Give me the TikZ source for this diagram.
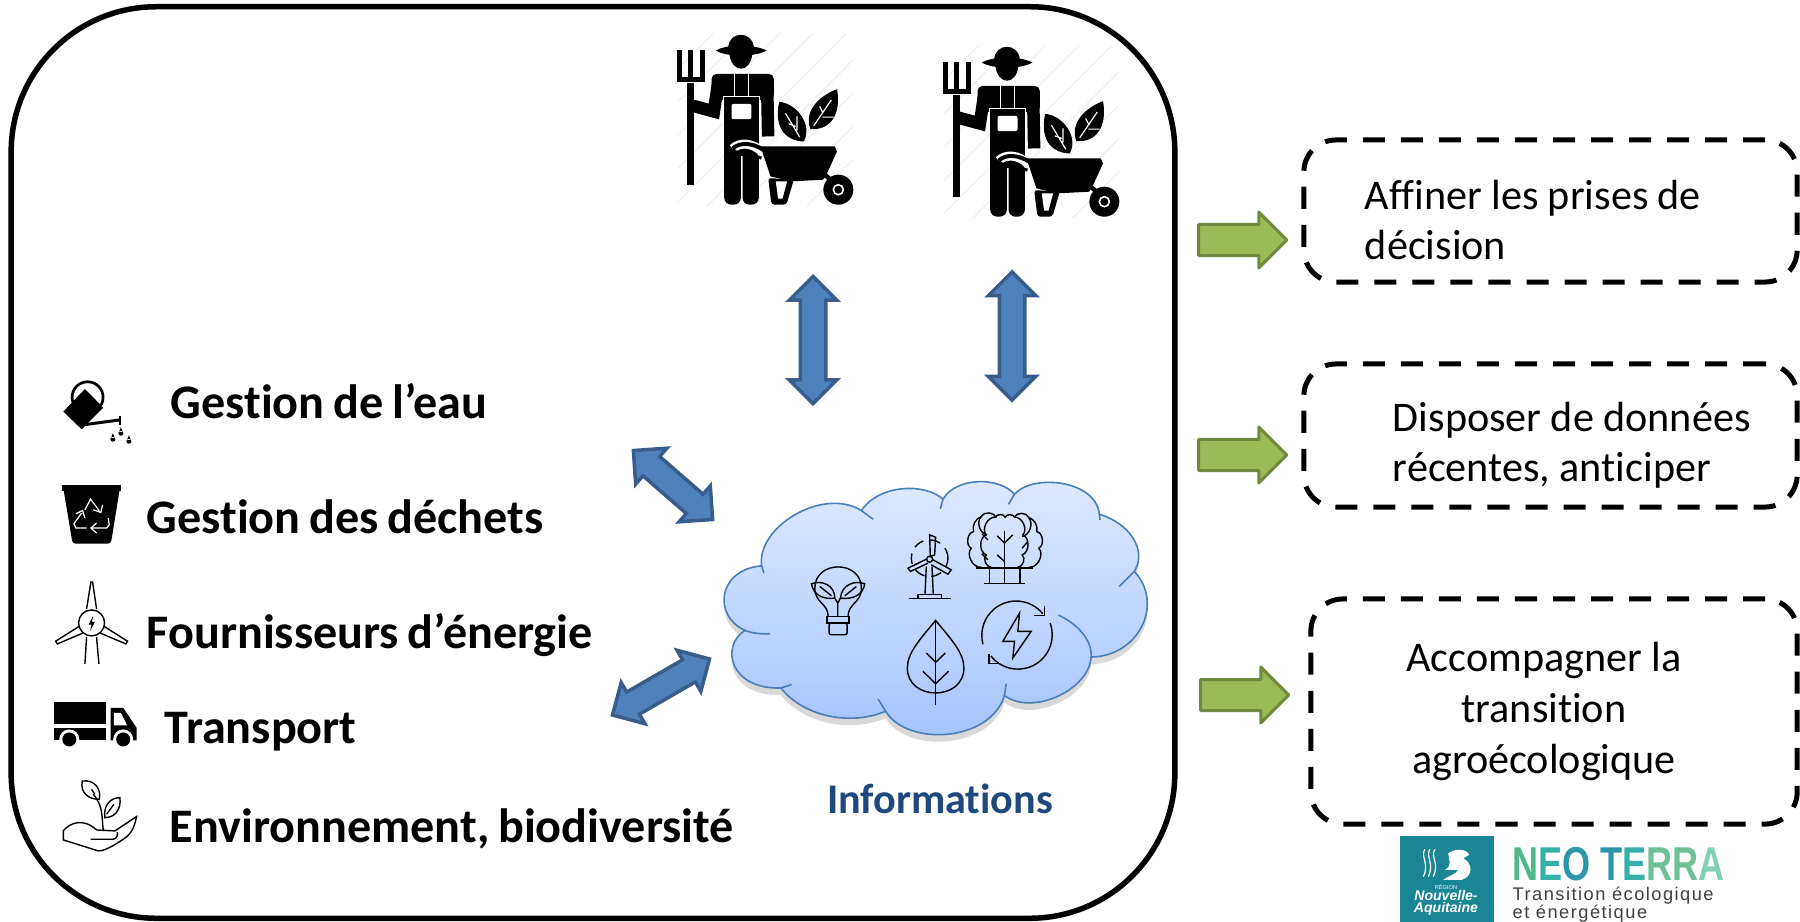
\documentclass[tikz,border=0pt]{standalone}
\usepackage{fontspec}
\setmainfont{Carlito}[Ligatures=NoCommon,WordSpace=.8]
\newfontfamily\logofont{Liberation Sans}
\usetikzlibrary{arrows,shapes.arrows,shadows}
\definecolor{arrow_blue}{RGB}{79,129,189}
\definecolor{arrow_blue_edge}{RGB}{56,93,138}
\definecolor{arrow_green}{RGB}{155,187,89}
\definecolor{arrow_green_edge}{RGB}{113,137,63}
\definecolor{cloud_edge}{RGB}{74,126,187}
\definecolor{cloud_top}{RGB}{224,234,255}
\definecolor{cloud_bottom}{RGB}{163,196,255}
\definecolor{info_blue}{RGB}{31,73,125}
\definecolor{stripe_gray}{RGB}{240,240,240}
\definecolor{logo_teal}{RGB}{26,133,149}
\definecolor{neo_a}{RGB}{78,184,138}
\definecolor{neo_b}{RGB}{56,176,170}
\definecolor{neo_c}{RGB}{46,150,170}
\definecolor{neo_d}{RGB}{110,192,150}
\definecolor{neo_e}{RGB}{130,208,184}
\tikzset{
  farmer/.pic={
    \tikzset{x=.00333cm,y=-.00333cm,line cap=round,line join=round}
    \begin{scope}
      \clip (115,100) rectangle (640,620);
      \foreach \s in {-300,-200,...,600}
        \draw[stripe_gray,line width=.012cm] (\s,620) -- ++(520,-520);
    \end{scope}
    % fork
    \draw[line width=.07cm] (153,250) -- (153,555);
    \draw[line width=.05cm] (120,150) -- (120,240) -- (187,240) -- (187,150) (153,150) -- (153,240);
    % hat and head
    \fill (265,142) .. controls (268,92) and (338,92) .. (342,142) -- cycle;
    \fill (228,152) .. controls (260,132) and (345,132) .. (380,152) .. controls (345,172) and (260,172) .. (228,152) -- cycle;
    \fill (268,160) .. controls (275,222) and (332,222) .. (338,160) -- cycle;
    % body
    \draw[line width=.125cm] (235,248) -- (222,335) -- (148,315);
    \draw[line width=.125cm] (382,248) -- (385,410);
    \fill[rounded corners=.05cm] (215,222) rectangle (402,300);
    \fill (253,290) rectangle (357,470);
    \fill[rounded corners=.07cm] (253,440) rectangle (303,615);
    \fill[rounded corners=.07cm] (308,440) rectangle (357,615);
    \draw[white,line width=.012cm] (283,222) -- (283,290) (325,222) -- (325,290);
    \draw[white,line width=.012cm] (250,440) -- (250,290) -- (358,290) -- (358,420);
    \fill[white,rounded corners=.02cm] (275,312) rectangle (335,358);
    % leaves
    \fill (418,306) .. controls (470,310) and (520,375) .. (492,425) .. controls (445,425) and (400,390) .. (418,306) -- cycle;
    \fill (592,268) .. controls (605,340) and (575,392) .. (512,388) .. controls (490,330) and (545,285) .. (592,268) -- cycle;
    \draw[white,line width=.012cm] (437,340) -- (480,412) (447,372) -- (468,380) (472,350) -- (472,392);
    \draw[white,line width=.012cm] (575,300) -- (522,378) (540,320) -- (550,340) (548,352) -- (582,352);
    % barrow
    \draw[white,line width=.09cm] (278,447) .. controls (300,425) and (340,430) .. (365,455) -- (390,535);
    \fill (362,440) -- (585,440) -- (592,455) -- (560,525) -- (550,540) -- (455,545) -- (392,530) -- cycle;
    \draw[line width=.04cm] (278,447) .. controls (300,425) and (340,430) .. (370,450);
    \draw[line width=.03cm] (280,450) .. controls (290,465) and (340,465) .. (365,475);
    \fill[rounded corners=.03cm] (385,535) -- (395,615) -- (440,615) -- (462,540) -- cycle;
    \fill[white] (408,545) -- (415,597) -- (428,597) -- (442,545) -- cycle;
    \draw[line width=.045cm] (555,525) -- (585,550);
    \fill (596,570) circle (.15cm);
    \draw[white,line width=.016cm] (596,570) circle (.05cm);
  },
  wateringcan/.pic={
    \tikzset{x=.00333cm,y=-.00333cm,line cap=round,line join=round}
    \draw[line width=.027cm] (143,82) circle (.155cm);
    \fill (70,125) -- (135,57) -- (190,113) -- (125,178) -- cycle;
    \draw[line width=.03cm,line cap=butt] (135,164) -- (240,150);
    \draw[line width=.025cm] (240,137) -- (240,164);
    \foreach \a/\b in {243/190,219/208,267/214}
      \fill (\a,\b) circle (.025cm) (\a-6,\b-3) -- (\a,\b-18) -- (\a+6,\b-3) -- cycle;
  },
  recyclebin/.pic={
    \tikzset{x=.00333cm,y=-.00333cm,line cap=round,line join=round}
    \draw[line width=.06cm] (66,355) -- (244,355);
    \fill[rounded corners=.03cm] (70,355) -- (240,355) -- (213,522) -- (98,522) -- cycle;
    \draw[white,line width=.012cm] (135,420) -- (152,388) -- (178,423) (160,420) -- (183,428) -- (188,405);
    \draw[white,line width=.012cm] (140,475) -- (108,475) -- (102,462) -- (125,430) (108,432) -- (128,422) -- (135,445);
    \draw[white,line width=.012cm] (205,445) -- (208,465) -- (200,475) -- (158,475) (170,460) -- (153,475) -- (170,490);
  },
  bigturbine/.pic={
    \tikzset{x=.00333cm,y=-.00333cm,line cap=round,line join=round,line width=.016cm}
    \draw (155,760) circle (.13cm);
    \fill (160,738) -- (146,765) -- (155,765) -- (150,785) -- (165,757) -- (156,757) -- cycle;
    \draw (140,718) -- (153,637) -- (158,637) -- (170,718);
    \draw (118,770) -- (47,815) -- (52,823) -- (130,790);
    \draw (192,770) -- (263,815) -- (258,823) -- (180,790);
    \draw (140,802) -- (135,883);
    \draw (170,802) -- (177,883);
  },
  truck/.pic={
    \tikzset{x=.00333cm,y=-.00333cm}
    \fill (42,997) rectangle (198,1065);
    \fill (42,1077) rectangle (198,1113);
    \fill (212,1015) -- (250,1015) -- (290,1075) -- (290,1113) -- (212,1113) -- cycle;
    \fill[white] (222,1030) -- (243,1030) -- (262,1068) -- (222,1068) -- cycle;
    \foreach \a in {88,250} {
      \fill[white] (\a,1110) circle (.1cm);
      \fill (\a,1110) circle (.07cm);
    }
  },
  handplant/.pic={
    \tikzset{x=.00333cm,y=-.00333cm,line cap=round,line join=round,line width=.016cm}
    \draw (70,1385) .. controls (90,1360) and (130,1345) .. (170,1382) -- (225,1385) -- (290,1342) .. controls (285,1370) and (275,1395) .. (250,1410) .. controls (220,1430) and (195,1445) .. (175,1445) -- (70,1412) -- cycle;
    \draw (152,1410) -- (220,1410) .. controls (232,1408) and (235,1395) .. (232,1388);
    \draw (190,1382) .. controls (185,1340) and (190,1310) .. (160,1275);
    \draw (127,1235) .. controls (165,1230) and (185,1260) .. (178,1290) .. controls (145,1290) and (120,1270) .. (127,1235) -- cycle;
    \draw (195,1345) .. controls (190,1310) and (210,1285) .. (240,1285) .. controls (245,1320) and (225,1345) .. (195,1345) -- cycle;
    \draw (155,1260) -- (165,1275) (200,1335) -- (222,1305);
  },
  cloudicons/.pic={
    \tikzset{x=.00333cm,y=-.00333cm,line cap=round,line join=round,line width=.014cm}
    % bulb
    \draw (385,470) .. controls (385,430) and (345,430) .. (345,385) .. controls (345,300) and (485,300) .. (485,385) .. controls (485,430) and (445,430) .. (445,470);
    \draw (382,470) -- (382,490) -- (448,490) -- (448,470) -- cycle;
    \draw[rounded corners=.02cm] (388,490) rectangle (442,525);
    \draw (335,372) .. controls (365,360) and (405,375) .. (405,415) .. controls (370,420) and (340,405) .. (335,372) -- cycle;
    \draw (495,372) .. controls (465,360) and (425,375) .. (422,415) .. controls (460,420) and (490,405) .. (495,372) -- cycle;
    \draw (414,470) -- (414,430) -- (405,415) (414,430) -- (422,415);
    \draw (360,380) -- (395,408) (470,380) -- (435,408);
    % turbine
    \draw (690,225) -- (708,232) -- (705,285) -- (692,290) -- cycle;
    \draw (682,297) -- (625,325) -- (632,335) -- (685,310);
    \draw (700,300) -- (755,330) -- (745,343) -- (695,315);
    \draw (690,298) circle (.03cm);
    \draw[densely dashed] (690,295) circle (.183cm);
    \draw (680,320) -- (676,405) (697,320) -- (701,405);
    \draw (655,416) -- (655,405) -- (725,405) -- (725,416);
    \draw (628,416) -- (753,416);
    % trees
    \draw (875,322) to[bend left=70] (860,285) to[bend left=70] (860,225) to[bend left=70] (888,172) to[bend left=70] (917,172) to[bend left=70] (945,172) to[bend left=70] (970,225) to[bend left=70] (968,285) to[bend left=70] (955,322);
    \draw (862,225) to[bend left=60] (845,170) to[bend left=70] (890,173);
    \draw (945,172) to[bend left=70] (987,172) to[bend left=60] (968,230);
    \draw (845,322) to[bend left=70] (815,265) to[bend left=70] (822,215) to[bend left=40] (845,170);
    \draw (987,172) to[bend left=40] (1012,215) to[bend left=70] (1018,265) to[bend left=70] (990,322);
    \draw (830,325) -- (1000,325);
    \draw (915,212) -- (915,371) (870,325) -- (870,371) (962,325) -- (962,371) (853,371) -- (978,371);
    \draw (893,228) -- (915,250) -- (940,225) (893,285) -- (915,305);
    \draw (847,222) -- (865,240) (847,282) -- (865,300) (985,245) -- (968,265);
    % leaf
    \draw (708,482) .. controls (660,540) and (623,580) .. (623,625) .. controls (623,725) and (793,725) .. (793,625) .. controls (793,580) and (756,540) .. (708,482) -- cycle;
    \draw (708,482) -- (708,737);
    \draw (680,580) -- (708,608) -- (737,580) (670,635) -- (708,672) -- (747,635);
    % renewable energy
    \draw (1030,462) arc[start angle=39,end angle=195,radius=.343cm];
    \draw (1052,490) arc[start angle=20,end angle=-142,radius=.343cm];
    \draw (1035,440) -- (1035,468) -- (1005,468);
    \draw (868,582) -- (868,612) -- (898,612);
    \draw (960,460) -- (910,545) -- (945,545) -- (940,595) -- (995,515) -- (955,515) -- cycle;
  },
  lionlogo/.pic={
    \tikzset{x=.00333cm,y=-.00333cm,line cap=round,line join=round}
    \draw[white,line width=.012cm] (135,88) .. controls (120,110) and (150,130) .. (130,170);
    \draw[white,line width=.012cm] (150,88) .. controls (135,110) and (165,130) .. (145,170);
    \draw[white,line width=.012cm] (165,88) .. controls (150,110) and (180,130) .. (160,170);
    \fill[white] (205,100) .. controls (225,85) and (260,85) .. (268,105) -- (250,115) .. controls (280,130) and (280,170) .. (245,180) -- (190,180) .. controls (210,165) and (225,165) .. (235,150) -- (195,150) .. controls (220,135) and (205,120) .. (205,100) -- cycle;
  }
}
\newcommand{\padaffiner}{\hspace*{.61cm}}
\newcommand{\paddisposer}{\hspace*{.89cm}}
\newcommand{\padaccompagner}{\hspace*{.2cm}\mbox{}}
\begin{document}
\begin{tikzpicture}[x=.01cm,y=-.01cm]
    \tikzstyle{panel}=[draw=black, line width=.055cm, rounded corners=1.45cm, minimum width=11.63cm, minimum height=9.11cm, inner sep=0pt]
    \tikzstyle{blockarrow}=[draw=arrow_blue_edge, fill=arrow_blue, line width=.035cm, shape=double arrow, double arrow tip angle=90, double arrow head extend=.11cm, inner xsep=0pt, inner ysep=.11cm]
    \tikzstyle{nextarrow}=[draw=arrow_green_edge, fill=arrow_green, line width=.03cm, line join=round, shape=single arrow, single arrow tip angle=90, single arrow head extend=.125cm, minimum height=.88cm, inner xsep=0pt, inner ysep=.14cm]
    \tikzstyle{goalbox}=[draw=black, line width=.05cm, dash pattern=on .22cm off .16cm, rounded corners=.32cm, text=black, inner sep=0pt, font=\fontsize{12}{14.4}\selectfont, execute at begin node={\spaceskip=.22em\relax}]
    \tikzstyle{theme}=[anchor=base west, inner sep=0pt, font=\fontsize{13.7}{16}\selectfont\bfseries]

    \useasboundingbox (0,0) rectangle (1800,921);

    \node[panel] (panel) at (593,462.5) {};

    \pic at (640,0) {farmer};
    \pic at (906,12) {farmer};

    \node[blockarrow, rotate=90, minimum height=1.27cm] (upleft) at (813,340) {};
    \node[blockarrow, rotate=90, minimum height=1.28cm] (upright) at (1012,336) {};
    \node[blockarrow, rotate=-41, minimum height=1.05cm] (downtop) at (673,485) {};
    \node[blockarrow, rotate=30, minimum height=1.12cm] (downbottom) at (661,687) {};

    % cloud
    \begin{scope}[shift={(700,460)},x=.00333cm,y=-.00333cm]
    \path[draw=cloud_edge, line width=.016cm, top color=cloud_top, bottom color=cloud_bottom, drop shadow={shadow xshift=0pt, shadow yshift=-2pt, opacity=.3}]
      (135,512) .. controls (40,470) and (50,330) .. (185,318)
      .. controls (170,200) and (370,80) .. (485,152)
      .. controls (540,70) and (680,70) .. (730,118)
      .. controls (770,50) and (900,50) .. (945,103)
      .. controls (1000,40) and (1190,60) .. (1200,163)
      .. controls (1290,190) and (1345,270) .. (1305,335)
      .. controls (1395,430) and (1320,590) .. (1175,592)
      .. controls (1170,690) and (1000,770) .. (915,708)
      .. controls (870,850) and (620,860) .. (558,755)
      .. controls (450,800) and (310,770) .. (243,685)
      .. controls (90,690) and (60,560) .. (135,512) -- cycle;
    \draw[cloud_edge, line width=.016cm]
      (135,512) .. controls (155,520) and (185,524) .. (210,522)
      (185,318) -- (192,340)
      (485,152) -- (520,178)
      (730,118) -- (722,147)
      (945,103) -- (927,133)
      (1200,163) -- (1202,180)
      (1305,335) -- (1260,380)
      (1175,592) .. controls (1180,540) and (1130,490) .. (1077,466)
      (915,708) -- (920,672)
      (558,755) -- (535,718)
      (243,685) -- (275,675);
    \end{scope}
    \pic at (700,460) {cloudicons};
    \node[anchor=base, inner sep=0pt, text=info_blue, font=\fontsize{12}{14}\selectfont\bfseries] (info) at (940,813) {Informations};

    \pic at (40,370) {wateringcan};
    \pic at (40,370) {recyclebin};
    \pic at (40,370) {bigturbine};
    \pic at (40,370) {truck};
    \pic at (40,370) {handplant};

    \node[theme] (eau) at (170,418) {Gestion de l’eau};
    \node[theme] (dechets) at (146,533) {Gestion des déchets};
    \node[theme] (energie) at (146,648) {Fournisseurs d’énergie};
    \node[theme] (transport) at (164,743) {Transport};
    \node[theme] (biodiv) at (169,842) {Environnement, biodiversité};

    \node[nextarrow] (toaffiner) at (1235,240) {};
    \node[nextarrow] (todisposer) at (1235,455) {};
    \node[nextarrow] (toaccomp) at (1237,695) {};

    \node[goalbox, text width=4.93cm, minimum height=1.42cm, align=left] (affiner) at (1550.5,211) {\rule{0pt}{.47cm}\padaffiner Affiner les prises de\\\padaffiner décision};
    \node[goalbox, text width=4.93cm, minimum height=1.43cm, align=left] (disposer) at (1550.5,435.5) {\rule{0pt}{.49cm}\paddisposer Disposer de données\\\paddisposer récentes, anticiper};
    \node[goalbox, text width=4.86cm, minimum height=2.25cm, align=center] (accomp) at (1554,711.5) {Accompagner la\padaccompagner\\transition\padaccompagner\\agroécologique\padaccompagner};

    % logo
    \node[fill=logo_teal, anchor=north west, minimum width=.94cm, minimum height=.86cm, inner sep=0pt] (region) at (1399,835) {};
    \pic at (1380,820) {lionlogo};
    \node[anchor=center, inner sep=0pt, text=white, font=\logofont\fontsize{1.6}{2}\selectfont] (regionname) at (1446,887) {RÉGION};
    \node[anchor=center, inner sep=0pt, text=white, align=center, font=\logofont\fontsize{4}{3.5}\selectfont\bfseries\itshape] (nouvelle) at (1446,903) {Nouvelle-\\Aquitaine};
    \node[anchor=base west, inner sep=0pt, xscale=.76, transform shape, font=\logofont\fontsize{13.5}{14}\selectfont\bfseries] (neoterra) at (1512,880) {\textcolor{neo_a}{N}\textcolor{neo_b}{E}\textcolor{neo_c}{O} \textcolor{neo_c}{T}\textcolor{neo_b}{E}\textcolor{neo_d}{R}\textcolor{neo_d}{R}\textcolor{neo_e}{A}};
    \node[anchor=base west, inner sep=0pt, text=black!75, font=\logofont\fontsize{5.2}{6}\selectfont\addfontfeature{LetterSpace=8}] (transition) at (1512,900) {Transition écologique};
    \node[anchor=base west, inner sep=0pt, text=black!75, font=\logofont\fontsize{5.2}{6}\selectfont\addfontfeature{LetterSpace=8}] (etenergie) at (1512,918) {et énergétique};
\end{tikzpicture}
\end{document}
